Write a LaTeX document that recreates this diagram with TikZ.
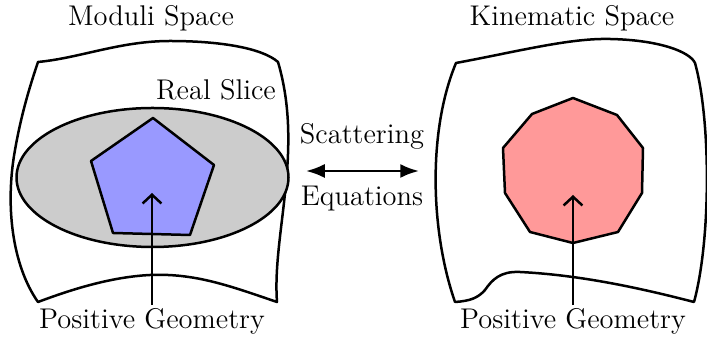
\documentclass[tikz,border=0pt]{standalone}
\usepackage{tikz}
\usetikzlibrary{arrows.meta}

\tikzset{
  sheet/.style={line width=1pt,line join=round},
  label/.style={font=\fontsize{11.4}{13}\selectfont,inner sep=1pt},
  pointer/.style={line width=1pt,-{Straight Barb[length=3.5pt,width=7.5pt]}}
}

\begin{document}
\begin{tikzpicture}[x=0.4pt,y=-0.4pt,>=Latex]
\useasboundingbox (0,0) rectangle (707,337);

% moduli space sheet
\draw[sheet] (38,62) .. controls (80,58) and (120,41) .. (170,41)
  .. controls (220,41) and (262,48) .. (278,62)
  .. controls (304,150) and (272,235) .. (277,302)
  .. controls (230,286) and (195,273) .. (150,275)
  .. controls (110,277) and (70,290) .. (38,302)
  .. controls (12,265) and (5,205) .. (15,150)
  .. controls (22,110) and (32,80) .. (38,62) -- cycle;
\draw[sheet,fill=black!20] (152.5,177.5) ellipse [x radius=136,y radius=69.5];
\draw[sheet,fill=blue!40] (153,118) -- (214,165) -- (190,235) -- (113,233) -- (91,161) -- cycle;

% kinematic space sheet
\draw[sheet] (456,63) .. controls (520,51) and (570,38) .. (610,39)
  .. controls (660,40) and (690,52) .. (695,63)
  .. controls (711,120) and (711,240) .. (694,302)
  .. controls (640,288) and (580,275) .. (520,272)
  .. controls (500,271) and (492,280) .. (485,290)
  .. controls (478,298) and (470,301) .. (455,302)
  .. controls (430,230) and (428,130) .. (456,63) -- cycle;
\draw[sheet,fill=red!40] (573,98) -- (617,115) -- (643,148) -- (642,193) -- (618,232)
  -- (573,243) -- (530,232) -- (505,193) -- (503,148) -- (532,114) -- cycle;

\node[label] (moduli) at (151,18) {Moduli Space};
\node[label] (kinematic) at (572,18) {Kinematic Space};
\node[label] (realslice) at (216,90) {Real Slice};
\node[label] (posL) at (152,321) {Positive Geometry};
\node[label] (posR) at (573,321) {Positive Geometry};
\node[label] (scat) at (362,136) {Scattering};
\node[label] (eqn) at (362,199) {Equations};

\coordinate (tipL) at (152,193);
\coordinate (tipR) at (573,195);
\coordinate (endA) at (306,171);
\coordinate (endB) at (419,171);

\draw[pointer] (posL.north) -- (tipL);
\draw[pointer] (posR.north) -- (tipR);
\draw[line width=1pt,<->] (endA) -- (endB);
\end{tikzpicture}
\end{document}
